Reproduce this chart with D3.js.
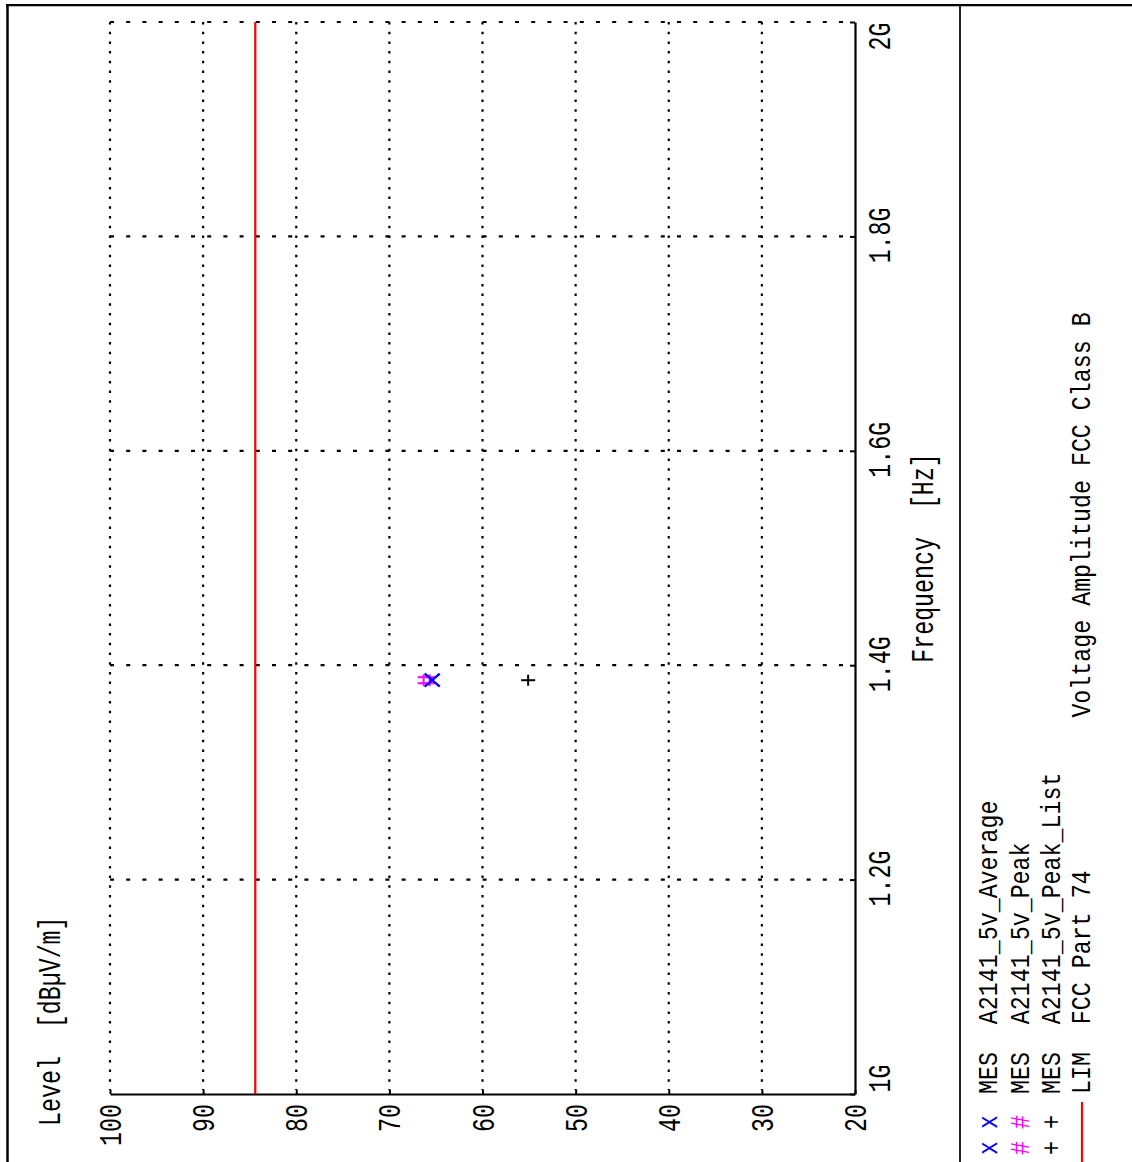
<!DOCTYPE html>
<html>
<head>
<meta charset="utf-8">
<script src="https://cdn.jsdelivr.net/npm/d3@7"></script>
<style>
  html, body { margin: 0; padding: 0; background: #fff; }
  svg { display: block; }
  text { font-family: "Liberation Mono", "DejaVu Sans Mono", monospace; }
</style>
</head>
<body>
<svg id="chart" width="1132" height="1162"></svg>
<script>
// Axis ticks
const levelTicks = [100, 90, 80, 70, 60, 50, 40, 30, 20];
const freqTicks = [1.0e9, 1.2e9, 1.4e9, 1.6e9, 1.8e9, 2.0e9];
const freqTickLabels = ["1G", "1.2G", "1.4G", "1.6G", "1.8G", "2G"];

// Limit line: FCC Part 74
const limitFreq = [1.0e9, 2.0e9];
const limitLevel = [84.4, 84.4];

// Measured points
const avgFreq = [1.386e9];
const avgLevel = [65.4];
const peakFreq = [1.386e9];
const peakLevel = [66.0];
const peakListFreq = [1.386e9];
const peakListLevel = [55.1];

// Legend entries
const legendTags = ["MES", "MES", "MES", "LIM"];
const legendNames = ["A2141_5v_Average", "A2141_5v_Peak", "A2141_5v_Peak_List", "FCC Part 74"];
const legendSymbols = ["x", "#", "+", null];
const legendColors = ["#0000ff", "#ff00ff", "#000000", "#ff0000"];

const titleText = "Voltage Amplitude FCC Class B";
const levelTitle = "Level  [dB\u00b5V/m]";
const freqTitle = "Frequency  [Hz]";

const svg = d3.select("#chart");
const FS = 23.3; // monospace advance of ~14px

// Plot laid out turned a quarter turn: level runs left->right (100..20),
// frequency runs bottom->top (1G..2G).
const x = d3.scaleLinear().domain([100, 20]).range([110, 855]);
const y = d3.scaleLinear().domain([1.0e9, 2.0e9]).range([1094, 22]);

// Outer frame and separator
svg.append("line").attr("x1", 7.5).attr("x2", 7.5).attr("y1", 4).attr("y2", 1162)
  .attr("stroke", "#000").attr("stroke-width", 2.5);
svg.append("line").attr("x1", 6).attr("x2", 1132).attr("y1", 5.2).attr("y2", 5.2)
  .attr("stroke", "#000").attr("stroke-width", 2.2);
svg.append("line").attr("x1", 960).attr("x2", 960).attr("y1", 5).attr("y2", 1162)
  .attr("stroke", "#222").attr("stroke-width", 2);

// Grid: level lines dotted, frequency lines dashed
svg.append("g").selectAll("line").data(levelTicks.slice(0, -1)).join("line")
  .attr("x1", d => x(d)).attr("x2", d => x(d))
  .attr("y1", y(2.0e9)).attr("y2", y(1.0e9) - 4)
  .attr("stroke", "#000").attr("stroke-width", 2.2)
  .attr("stroke-dasharray", "2.5,7.2");
svg.append("g").selectAll("line").data(freqTicks.slice(1)).join("line")
  .attr("x1", x(100)).attr("x2", x(20) - 5)
  .attr("y1", d => y(d)).attr("y2", d => y(d))
  .attr("stroke", "#000").attr("stroke-width", 2.2)
  .attr("stroke-dasharray", "4,12.2");

// Level axis along the bottom
const gx = svg.append("g").attr("transform", `translate(0,${y(1.0e9)})`)
  .call(d3.axisBottom(x).tickValues(levelTicks).tickSizeInner(-4).tickSizeOuter(0).tickPadding(0));
gx.select(".domain").attr("stroke", "#000").attr("stroke-width", 2.2);
gx.selectAll(".tick line").attr("stroke", "#000").attr("stroke-width", 2);
gx.selectAll(".tick text")
  .attr("x", 0).attr("y", 0).attr("dy", null)
  .attr("text-anchor", "end")
  .attr("font-size", FS)
  .attr("font-family", null)
  .attr("fill", "#000")
  .attr("transform", "translate(10.5,10) rotate(-90) scale(1,1.35)");

// Frequency axis along the right
const gy = svg.append("g").attr("transform", `translate(${x(20)},0)`)
  .call(d3.axisRight(y).tickValues(freqTicks)
    .tickFormat((d, i) => freqTickLabels[i])
    .tickSizeInner(-5).tickSizeOuter(0).tickPadding(0));
gy.select(".domain").attr("stroke", "#000").attr("stroke-width", 2.2);
gy.selectAll(".tick line").attr("stroke", "#000").attr("stroke-width", 2);
gy.selectAll(".tick text")
  .attr("x", 0).attr("y", 0).attr("dy", null)
  .attr("font-size", FS)
  .attr("font-family", null)
  .attr("fill", "#000")
  .attr("text-anchor", (d, i) => i === 0 ? "start" : (i === freqTicks.length - 1 ? "end" : "middle"))
  .attr("transform", (d, i) => {
    const off = i === 0 ? -2 : (i === freqTicks.length - 1 ? 0 : -1.5);
    return `translate(35,${off}) rotate(-90) scale(1,1.35)`;
  });

// Limit line
const limitLine = d3.line().x(d => x(d[1])).y(d => y(d[0]));
svg.append("path")
  .datum(limitFreq.map((f, i) => [f, limitLevel[i]]))
  .attr("d", limitLine)
  .attr("fill", "none").attr("stroke", "#ff0000").attr("stroke-width", 2.2);

// Markers
const gm = svg.append("g");
// Peak: '#'
peakFreq.forEach((f, i) => {
  const cx = x(peakLevel[i]), cy = y(f);
  const g = gm.append("g").attr("transform", `translate(${cx},${cy})`)
    .attr("stroke", "#ff00ff").attr("stroke-width", 2);
  g.append("line").attr("x1", -9).attr("x2", 8.5).attr("y1", -3).attr("y2", -3);
  g.append("line").attr("x1", -9).attr("x2", 8.5).attr("y1", 3).attr("y2", 3);
  g.append("line").attr("x1", -3).attr("x2", -3).attr("y1", -6).attr("y2", 6);
  g.append("line").attr("x1", 3).attr("x2", 3).attr("y1", -6).attr("y2", 6);
});
// Average: 'x'
avgFreq.forEach((f, i) => {
  const cx = x(avgLevel[i]), cy = y(f);
  const g = gm.append("g").attr("transform", `translate(${cx},${cy})`)
    .attr("stroke", "#0000ff").attr("stroke-width", 2.4);
  g.append("line").attr("x1", -7.5).attr("x2", 7.5).attr("y1", -6.5).attr("y2", 6.5);
  g.append("line").attr("x1", -7.5).attr("x2", 7.5).attr("y1", 6.5).attr("y2", -6.5);
});
// Peak list: '+'
peakListFreq.forEach((f, i) => {
  const cx = x(peakListLevel[i]), cy = y(f);
  const g = gm.append("g").attr("transform", `translate(${cx},${cy})`)
    .attr("stroke", "#000").attr("stroke-width", 2);
  g.append("line").attr("x1", -7).attr("x2", 7).attr("y1", 0).attr("y2", 0);
  g.append("line").attr("x1", 0).attr("x2", 0).attr("y1", -5.5).attr("y2", 5.5);
});

// Rotated text helper: baseline at screen x = bx, anchored at screen y = by
function vtext(str, bx, by, anchor, sy, color) {
  return svg.append("text")
    .attr("transform", `translate(${bx},${by}) rotate(-90) scale(1,${sy})`)
    .attr("text-anchor", anchor)
    .attr("font-size", FS)
    .attr("xml:space", "preserve")
    .style("white-space", "pre")
    .style("fill", color || "#000")
    .text(str);
}

// Axis titles
vtext(levelTitle, 60, 1126, "start", 1.35);
vtext(freqTitle, 933, 558, "middle", 1.35);

// Chart title
vtext(titleText, 1090, 515, "middle", 1.15);

// Legend
const legendBase = [996.5, 1029, 1060, 1090];
legendTags.forEach((tag, i) => {
  vtext(tag + "  " + legendNames[i], legendBase[i], 1094, "start", 1.15);
  if (legendSymbols[i]) {
    [1122, 1148].forEach(cy => {
      vtext(legendSymbols[i], legendBase[i], cy, "middle", 1.15, legendColors[i]);
    });
  } else {
    svg.append("line")
      .attr("x1", legendBase[i] - 8).attr("x2", legendBase[i] - 8)
      .attr("y1", 1102).attr("y2", 1162)
      .attr("stroke", legendColors[i]).attr("stroke-width", 2.2);
  }
});
</script>
</body>
</html>
